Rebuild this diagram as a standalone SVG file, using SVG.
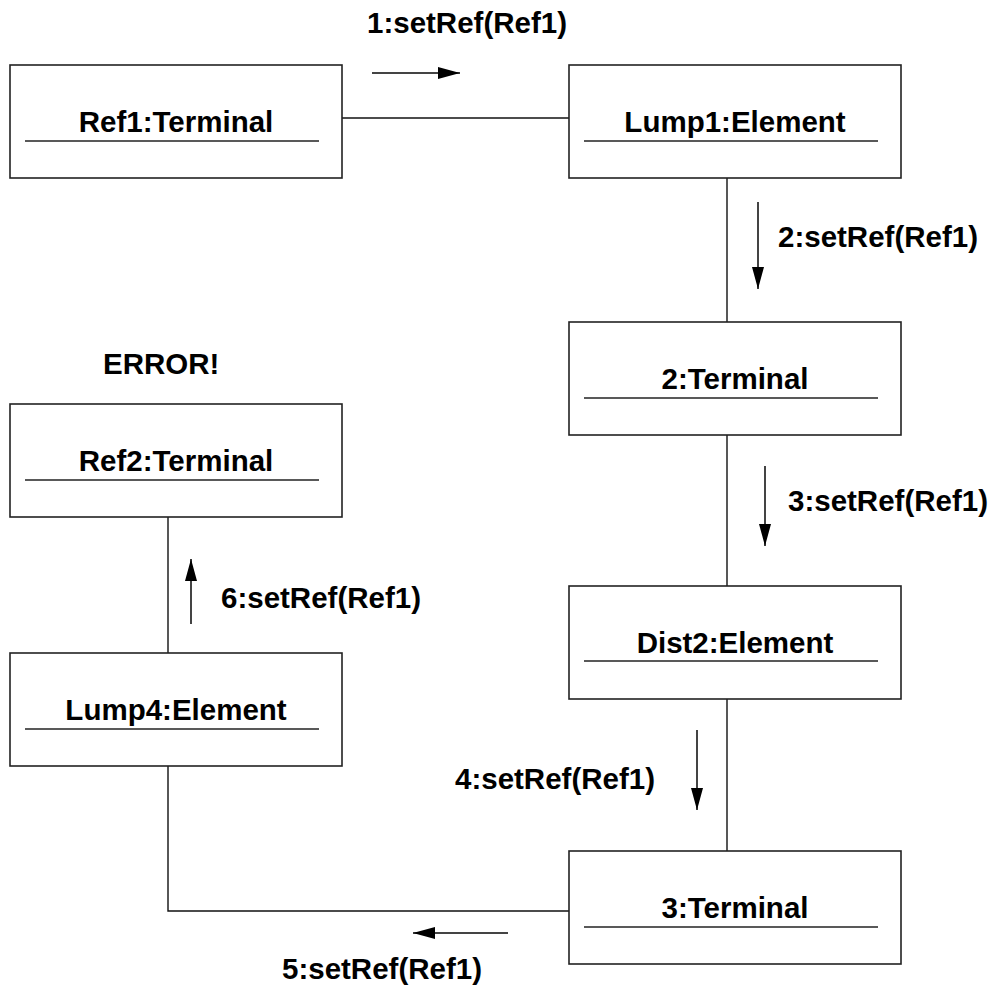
<svg xmlns="http://www.w3.org/2000/svg" width="999" height="988" viewBox="0 0 999 988">
<style>
.box{fill:#fff;stroke:#222;stroke-width:1.6}
.ul{stroke:#222;stroke-width:1.6}
.conn{fill:none;stroke:#111;stroke-width:1.4}
.msg{stroke:#444;stroke-width:2}
text{font-family:"Liberation Sans",Arial,Helvetica,sans-serif;font-weight:bold;font-size:29.5px;fill:#000}
.nt{text-anchor:middle}
</style>
<defs>
<marker id="ah" markerUnits="userSpaceOnUse" markerWidth="24" markerHeight="14" refX="22" refY="6" orient="auto">
<path d="M0,0 L22,6 L0,12 Z" fill="#000"/>
</marker>
</defs>
<rect width="999" height="988" fill="#fff"/>
<g id="connectors">
<path class="conn" d="M342,118 H569"/>
<path class="conn" d="M727,178 V322"/>
<path class="conn" d="M727,435 V586"/>
<path class="conn" d="M727,699 V851"/>
<path class="conn" d="M569,911 H168 V766"/>
<path class="conn" d="M168,517 V653"/>
<line class="msg" x1="372" y1="73" x2="460" y2="73" marker-end="url(#ah)"/>
<line class="msg" x1="758" y1="202" x2="758" y2="289" marker-end="url(#ah)"/>
<line class="msg" x1="765" y1="466" x2="765" y2="546" marker-end="url(#ah)"/>
<line class="msg" x1="697" y1="730" x2="697" y2="810" marker-end="url(#ah)"/>
<line class="msg" x1="508" y1="933" x2="413" y2="933" marker-end="url(#ah)"/>
<line class="msg" x1="191" y1="624" x2="191" y2="559" marker-end="url(#ah)"/>
<text x="367" y="33">1:setRef(Ref1)</text>
<text x="778" y="247">2:setRef(Ref1)</text>
<text x="788" y="511">3:setRef(Ref1)</text>
<text x="455" y="789">4:setRef(Ref1)</text>
<text x="282" y="979">5:setRef(Ref1)</text>
<text x="221" y="608">6:setRef(Ref1)</text>
<text x="103" y="374">ERROR!</text>
</g>
<g id="ref1">
<rect class="box" x="10" y="65" width="332" height="113"/>
<line class="ul" x1="25" y1="141" x2="319" y2="141"/>
<text class="nt" x="176" y="132">Ref1:Terminal</text>
</g>
<g id="lump1">
<rect class="box" x="569" y="65" width="332" height="113"/>
<line class="ul" x1="584" y1="141" x2="878" y2="141"/>
<text class="nt" x="735" y="132">Lump1:Element</text>
</g>
<g id="term2">
<rect class="box" x="569" y="322" width="332" height="113"/>
<line class="ul" x1="584" y1="398" x2="878" y2="398"/>
<text class="nt" x="735" y="389">2:Terminal</text>
</g>
<g id="dist2">
<rect class="box" x="569" y="586" width="332" height="113"/>
<line class="ul" x1="584" y1="661" x2="878" y2="661"/>
<text class="nt" x="735" y="653">Dist2:Element</text>
</g>
<g id="term3">
<rect class="box" x="569" y="851" width="332" height="113"/>
<line class="ul" x1="584" y1="927" x2="878" y2="927"/>
<text class="nt" x="735" y="918">3:Terminal</text>
</g>
<g id="ref2">
<rect class="box" x="10" y="404" width="332" height="113"/>
<line class="ul" x1="25" y1="480" x2="319" y2="480"/>
<text class="nt" x="176" y="471">Ref2:Terminal</text>
</g>
<g id="lump4">
<rect class="box" x="10" y="653" width="332" height="113"/>
<line class="ul" x1="25" y1="729" x2="319" y2="729"/>
<text class="nt" x="176" y="720">Lump4:Element</text>
</g>
</svg>
